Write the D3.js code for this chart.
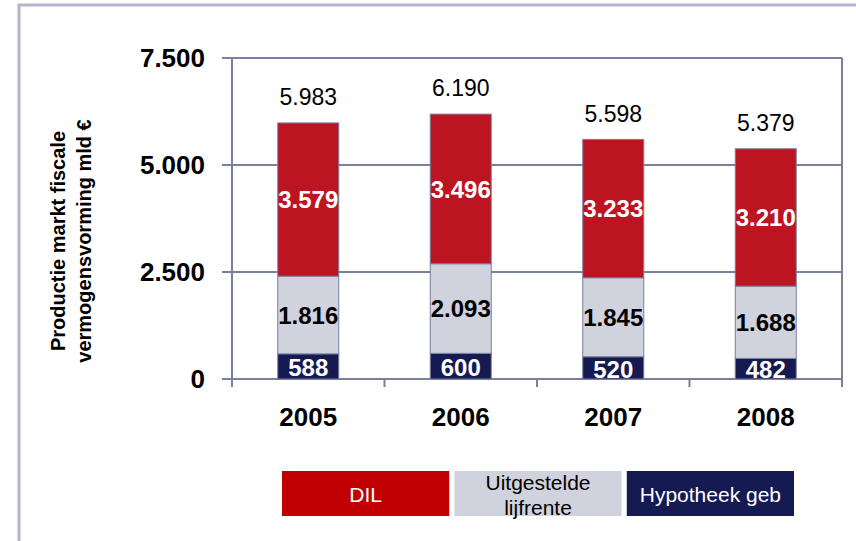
<!DOCTYPE html>
<html>
<head>
<meta charset="utf-8">
<script src="https://cdn.jsdelivr.net/npm/d3@7"></script>
<style>
  body { margin: 0; background: #fff; }
  svg { display: block; font-family: Arial, "Liberation Sans", sans-serif; }
</style>
</head>
<body>
<div id="vis"></div>
<script>
const years = ["2005", "2006", "2007", "2008"];
const hypotheek = [588, 600, 520, 482];
const lijfrente = [1816, 2093, 1845, 1688];
const dil = [3579, 3496, 3233, 3210];
const totals = [5983, 6190, 5598, 5379];
const yTicks = [0, 2500, 5000, 7500];
const seriesNames = ["DIL", "Uitgestelde lijfrente", "Hypotheek geb"];

const svg = d3.select("#vis")
    .append("svg")
    .attr("width", 856)
    .attr("height", 541);

const fmt = d3.formatLocale({decimal: ",", thousands: ".", grouping: [3], currency: ["€", ""]}).format(",d");

// outer frame
svg.append("path")
    .attr("d", "M19,541 V5 H856")
    .attr("fill", "none")
    .attr("stroke", "#b4b6cc")
    .attr("stroke-width", 3);

const plotLeft = 232, plotRight = 842, plotTop = 58, plotBottom = 379;
const axisColor = "#7a7f9e";

const x = d3.scaleBand().domain(years).range([plotLeft, plotRight]).paddingInner(0.6).paddingOuter(0.3);
const xOuter = d3.scaleBand().domain(years).range([plotLeft, plotRight]);
const y = d3.scaleLinear().domain([0, 7500]).range([plotBottom, plotTop]);

// gridlines + frame
const g = svg.append("g");
g.selectAll("line.grid")
    .data(yTicks)
    .enter().append("line")
    .attr("x1", plotLeft - 10).attr("x2", plotRight)
    .attr("y1", d => y(d)).attr("y2", d => y(d))
    .attr("stroke", axisColor).attr("stroke-width", 2);
g.append("line").attr("x1", plotLeft).attr("x2", plotLeft).attr("y1", plotTop).attr("y2", plotBottom + 8)
    .attr("stroke", axisColor).attr("stroke-width", 2);
g.append("line").attr("x1", plotRight).attr("x2", plotRight).attr("y1", plotTop).attr("y2", plotBottom + 8)
    .attr("stroke", axisColor).attr("stroke-width", 2);
g.selectAll("line.xt")
    .data(years.slice(1))
    .enter().append("line")
    .attr("x1", d => xOuter(d)).attr("x2", d => xOuter(d))
    .attr("y1", plotBottom).attr("y2", plotBottom + 8)
    .attr("stroke", axisColor).attr("stroke-width", 2);

// y tick labels
svg.selectAll("text.ytick")
    .data(yTicks)
    .enter().append("text")
    .attr("x", 205).attr("y", d => y(d))
    .attr("dy", "0.36em")
    .attr("text-anchor", "end")
    .style("font-size", "26px").style("font-weight", "bold")
    .text(d => fmt(d));

// x tick labels
svg.selectAll("text.xtick")
    .data(years)
    .enter().append("text")
    .attr("x", d => x(d) + x.bandwidth() / 2).attr("y", 417)
    .attr("dy", "0.36em")
    .attr("text-anchor", "middle")
    .style("font-size", "26px").style("font-weight", "bold")
    .text(d => d);

// y axis title
const yt = svg.append("text")
    .attr("transform", "translate(65,241) rotate(-90)")
    .attr("text-anchor", "middle")
    .style("font-size", "20px").style("font-weight", "bold");
yt.append("tspan").attr("x", 0).attr("dy", 0).text("Productie markt fiscale");
yt.append("tspan").attr("x", 0).attr("dy", 26).text("vermogensvorming mld €");

// stacked bars
const rows = years.map((yr, i) => ({year: yr, Hypotheek: hypotheek[i], Lijfrente: lijfrente[i], DIL: dil[i]}));
const keys = ["Hypotheek", "Lijfrente", "DIL"];
const fills = {Hypotheek: "#161a52", Lijfrente: "#d0d2de", DIL: "#bd1421"};
const textFill = {Hypotheek: "#fff", Lijfrente: "#000", DIL: "#fff"};
const stack = d3.stack().keys(keys)(rows);

const layers = svg.selectAll("g.layer")
    .data(stack)
    .enter().append("g");
layers.selectAll("rect")
    .data(d => d.map(v => ({key: d.key, v})))
    .enter().append("rect")
    .attr("x", d => x(d.v.data.year))
    .attr("width", x.bandwidth())
    .attr("y", d => y(d.v[1]))
    .attr("height", d => y(d.v[0]) - y(d.v[1]))
    .attr("fill", d => fills[d.key])
    .attr("stroke", axisColor)
    .attr("stroke-width", 1);
layers.selectAll("text")
    .data(d => d.map(v => ({key: d.key, v})))
    .enter().append("text")
    .attr("x", d => x(d.v.data.year) + x.bandwidth() / 2)
    .attr("y", d => (y(d.v[0]) + y(d.v[1])) / 2 + (d.key === "Hypotheek" ? 1 : 0))
    .attr("dy", "0.36em")
    .attr("text-anchor", "middle")
    .attr("fill", d => textFill[d.key])
    .style("font-size", "24px").style("font-weight", "bold")
    .text(d => fmt(d.v.data[d.key]));

// totals
svg.selectAll("text.total")
    .data(years)
    .enter().append("text")
    .attr("x", d => x(d) + x.bandwidth() / 2)
    .attr("y", (d, i) => y(totals[i]) - 26)
    .attr("dy", "0.36em")
    .attr("text-anchor", "middle")
    .style("font-size", "23px")
    .text((d, i) => fmt(totals[i]));

// legend
const legX = d3.scaleBand().domain(seriesNames).range([282, 794]).paddingInner(0.03);
const legFill = ["#c00000", "#d0d2de", "#161a52"];
const legText = ["#fff", "#000", "#fff"];
const leg = svg.selectAll("g.leg")
    .data(seriesNames)
    .enter().append("g");
leg.append("rect")
    .attr("x", d => legX(d)).attr("y", 471)
    .attr("width", legX.bandwidth()).attr("height", 45)
    .attr("fill", (d, i) => legFill[i]);
leg.each(function(d, i) {
    const t = d3.select(this).append("text")
        .attr("text-anchor", "middle")
        .attr("fill", legText[i])
        .style("font-size", "21px");
    const cx = legX(d) + legX.bandwidth() / 2;
    if (d === "Uitgestelde lijfrente") {
        t.append("tspan").attr("x", cx).attr("y", 482).attr("dy", "0.36em").text("Uitgestelde");
        t.append("tspan").attr("x", cx).attr("y", 507).attr("dy", "0.36em").text("lijfrente");
    } else {
        t.attr("x", cx).attr("y", 494).attr("dy", "0.36em").text(d);
    }
});
</script>
</body>
</html>
